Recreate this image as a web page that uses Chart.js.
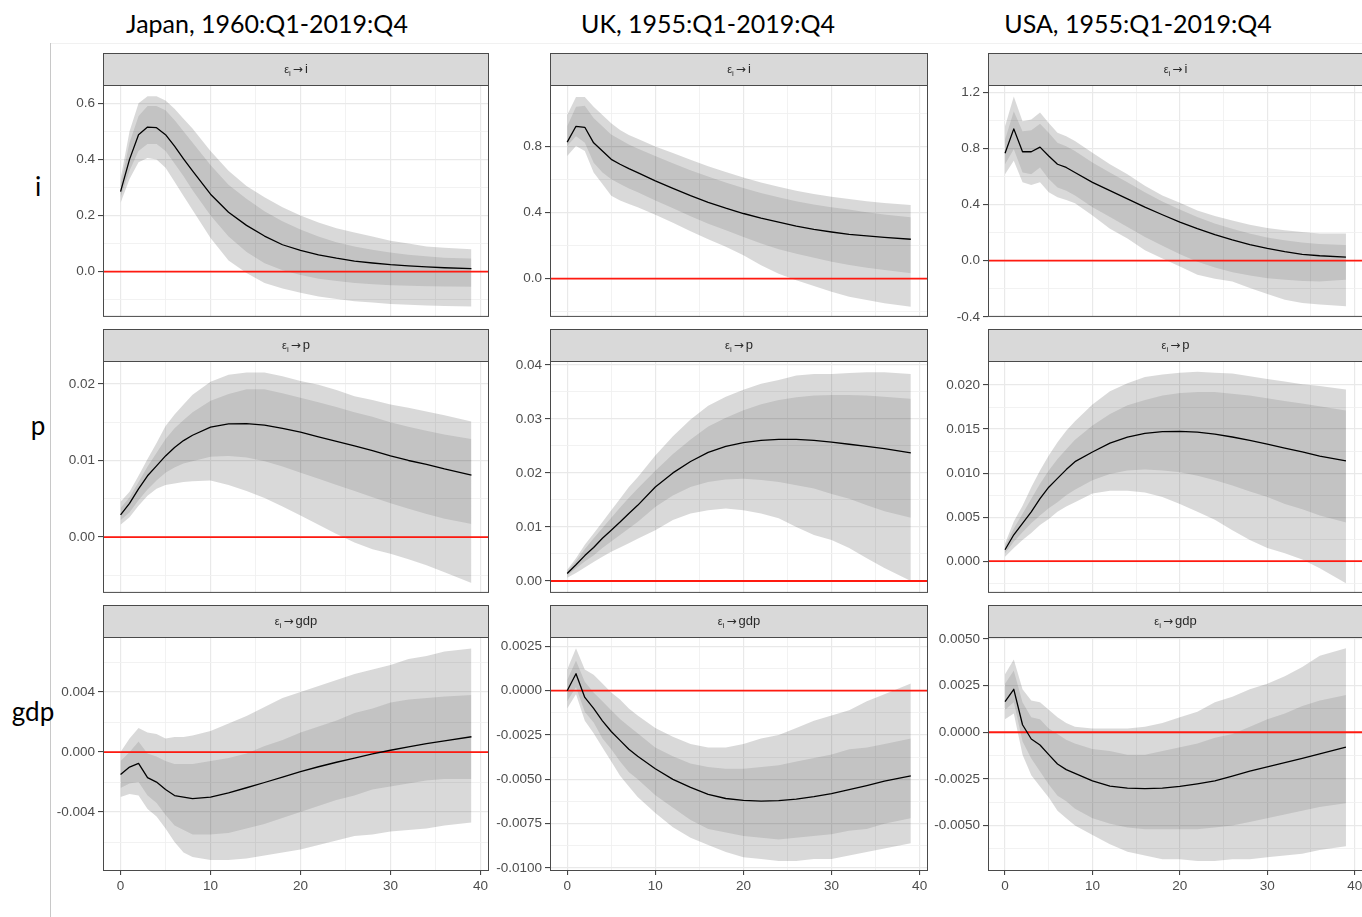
<!DOCTYPE html>
<html>
<head>
<meta charset="utf-8">
<script src="https://cdn.jsdelivr.net/npm/chart.js@4.4.1/dist/chart.umd.min.js"></script>
<style>
  html, body { margin: 0; padding: 0; background: #fff; overflow: hidden; }
  #page { position: relative; width: 1362px; height: 917px; overflow: hidden; }
  .title, .rowlab { position: absolute; font-family: Lato, sans-serif; line-height: 1.2; color: #000; white-space: nowrap; transform: translateX(-50%); }
  .title { font-size: 25px; top: 8px; }
  .rowlab { font-size: 26px; }
  canvas { position: absolute; }
</style>
</head>
<body>
<div id="page">
  <div style="position:absolute;left:50px;top:43px;width:1px;height:874px;background:#c8c8c8"></div>
  <div style="position:absolute;left:51px;top:43px;right:0;height:1px;background:#f1f1f1"></div>
  <div class="title" style="left:267px">Japan, 1960:Q1-2019:Q4</div>
  <div class="title" style="left:708px">UK, 1955:Q1-2019:Q4</div>
  <div class="title" style="left:1138px">USA, 1955:Q1-2019:Q4</div>
  <div class="rowlab" style="left:38px;top:171px">i</div>
  <div class="rowlab" style="left:38px;top:410px">p</div>
  <div class="rowlab" style="left:33px;top:696px">gdp</div>
</div>
<script>
Chart.defaults.font.family = '"Liberation Sans", Arial, sans-serif';

const horizons = [0, 1, 2, 3, 4, 5, 6, 7, 8, 10, 12, 14, 16, 18, 20, 22, 24, 26, 28, 30, 32, 34, 36, 39];

// Japan
const jpnIMid   = [.285,.40,.488,.515,.513,.488,.447,.402,.359, .276,.212,.165,.127,.096,.076,.060,.048,.038,.031,.025,.021,.017,.014, .011];
const jpnIOutHi = [.33,.50,.60,.625,.625,.61,.58,.545,.51, .43,.36,.305,.265,.23,.20,.175,.155,.14,.125,.11,.10,.09,.085, .08];
const jpnIInHi  = [.31,.46,.555,.59,.59,.575,.54,.50,.46, .38,.31,.26,.215,.18,.15,.125,.105,.09,.078,.068,.06,.055,.05, .047];
const jpnIInLo  = [.265,.36,.43,.455,.455,.43,.385,.34,.29, .20,.125,.07,.03,.005,-.012,-.025,-.033,-.04,-.045,-.048,-.05,-.052,-.053, -.054];
const jpnIOutLo = [.245,.33,.39,.405,.40,.37,.32,.27,.22, .12,.04,-.005,-.04,-.06,-.075,-.088,-.097,-.105,-.11,-.115,-.118,-.12,-.122, -.124];

const jpnPMid   = [.0029,.0044,.0063,.008,.0093,.0106,.0117,.0126,.0133, .01435,.01478,.01482,.01462,.0142,.0137,.0131,.0125,.0119,.0113,.0106,.0100,.0095,.0089, .0081];
const jpnPOutHi = [.0046,.0059,.008,.0102,.0123,.0145,.016,.0173,.0186, .0203,.0212,.0215,.0215,.021,.0204,.0199,.0192,.0184,.0179,.0173,.0169,.0164,.0159, .0151];
const jpnPInHi  = [.0038,.0052,.0072,.0092,.011,.0128,.0142,.0153,.0163, .0178,.0187,.0193,.0193,.0188,.0182,.0176,.017,.0163,.0157,.015,.0144,.0139,.0134, .0128];
const jpnPInLo  = [.0022,.0032,.0048,.0062,.0074,.0084,.0091,.0096,.0099, .0105,.0106,.0104,.0099,.0092,.0084,.0076,.0068,.006,.0052,.0044,.0037,.003,.0024, .0017];
const jpnPOutLo = [.0016,.0026,.0041,.0054,.0063,.0068,.007,.0072,.0073, .0074,.0068,.006,.0051,.004,.0028,.0016,.0004,-.0007,-.0016,-.0022,-.0029,-.0037,-.0046, -.006];

const jpnGdpMid   = [-.0015,-.001,-.00076,-.0017,-.002,-.0025,-.0029,-.003,-.0031, -.003,-.00272,-.00238,-.00203,-.00167,-.0013,-.00098,-.00068,-.0004,-.00012,.00012,.00035,.00056,.00075, .00102];
const jpnGdpOutHi = [0,.0009,.0016,.0013,.0012,.0009,.001,.001,.0011, .0014,.0019,.0024,.003,.0036,.004,.0044,.0048,.0052,.0055,.0058,.0062,.0064,.0067, .0069];
const jpnGdpInHi  = [-.0006,0,.0007,-.0001,-.0003,-.0006,-.0008,-.0008,-.0008, -.0006,-.0004,-.0001,.0004,.0008,.0013,.0017,.0021,.0026,.0029,.0033,.0035,.0036,.0037, .0038];
const jpnGdpInLo  = [-.0024,-.0021,-.002,-.0029,-.0034,-.0042,-.0049,-.0052,-.0055, -.0055,-.0054,-.0051,-.0048,-.0044,-.004,-.0036,-.0032,-.0029,-.0025,-.0023,-.0021,-.0019,-.0018, -.0018];
const jpnGdpOutLo = [-.003,-.0028,-.0029,-.0038,-.0043,-.0051,-.006,-.0067,-.007, -.0072,-.0072,-.0071,-.0069,-.0067,-.0065,-.0062,-.0059,-.0056,-.0055,-.0053,-.0052,-.0051,-.0049, -.0047];

// UK
const ukIMid   = [.826,.922,.916,.822,.772,.722,.692,.666,.642, .592,.546,.502,.462,.426,.394,.366,.342,.318,.298,.282,.268,.258,.25, .238];
const ukIOutHi = [.99,1.10,1.10,1.04,.99,.94,.90,.87,.846, .80,.76,.72,.68,.646,.612,.582,.556,.532,.512,.496,.482,.468,.458, .446];
const ukIInHi  = [.922,1.04,1.046,.972,.922,.872,.842,.812,.788, .742,.698,.656,.618,.582,.548,.518,.492,.468,.448,.432,.418,.402,.388, .372];
const ukIInLo  = [.802,.862,.822,.702,.642,.602,.572,.546,.522, .472,.426,.378,.332,.292,.252,.212,.178,.15,.126,.102,.082,.066,.052, .032];
const ukIOutLo = [.742,.802,.772,.642,.572,.502,.472,.452,.432, .386,.338,.286,.238,.192,.142,.08,.03,-.01,-.045,-.08,-.11,-.13,-.15, -.17];

const ukPMid   = [.0014,.003,.0047,.0062,.0079,.0094,.0109,.0125,.014, .0174,.02,.0221,.0238,.0249,.0256,.026,.0262,.0262,.026,.0257,.0253,.0249,.0245, .0237];
const ukPOutHi = [.0021,.0042,.0067,.0088,.0109,.0131,.0152,.0174,.0192, .0232,.0268,.0299,.0324,.0341,.0354,.0365,.0372,.038,.0383,.0383,.0385,.0386,.0386, .0383];
const ukPInHi  = [.0018,.0037,.0059,.0079,.0098,.0117,.0136,.0154,.0171, .0204,.0235,.0262,.0286,.0302,.0316,.0327,.0335,.034,.0343,.0344,.0344,.0343,.0341, .0337];
const ukPInLo  = [.001,.0023,.0036,.0047,.0061,.0073,.0085,.0097,.0109, .0137,.0158,.0174,.0183,.0188,.0189,.0187,.0183,.0177,.0171,.0161,.0152,.014,.0129, .0117];
const ukPOutLo = [.0006,.0015,.0025,.0035,.0045,.0054,.0062,.007,.0078, .0094,.0113,.0125,.0131,.0134,.0131,.0125,.0116,.01,.0085,.0076,.0061,.0042,.0024, 0];

const ukGdpMid   = [0,.00096,-.00038,-.001,-.0017,-.0023,-.0028,-.0033,-.0037, -.0044,-.005,-.00545,-.00585,-.00608,-.00619,-.00623,-.0062,-.00612,-.00598,-.0058,-.00558,-.00535,-.0051, -.0048];
const ukGdpOutHi = [.0012,.0024,.0012,.0009,.0004,-.0001,-.0005,-.001,-.0014, -.0021,-.0026,-.003,-.0032,-.0032,-.003,-.0027,-.0025,-.0021,-.0017,-.0014,-.0011,-.0006,-.0002, .0004];
const ukGdpInHi  = [.0006,.0017,.0005,-.0001,-.0006,-.0011,-.0016,-.002,-.0024, -.0032,-.0037,-.0041,-.0043,-.0044,-.0044,-.0043,-.0042,-.004,-.0038,-.0036,-.0033,-.0032,-.003, -.0027];
const ukGdpInLo  = [-.0006,.0002,-.0012,-.0018,-.0027,-.0033,-.004,-.0046,-.005, -.0059,-.0066,-.0073,-.0078,-.008,-.0082,-.0083,-.0084,-.0083,-.0082,-.0081,-.0079,-.0078,-.0075, -.0072];
const ukGdpOutLo = [-.001,-.0002,-.0017,-.0024,-.0032,-.004,-.0048,-.0054,-.006, -.0069,-.0077,-.0083,-.0087,-.0091,-.0094,-.0095,-.0096,-.0096,-.0095,-.0095,-.0093,-.0091,-.0089, -.0086];

// USA
const usaIMid   = [.765,.939,.776,.776,.809,.746,.687,.664,.628, .558,.499,.44,.381,.327,.275,.228,.186,.148,.115,.087,.064,.045,.035, .025];
const usaIOutHi = [.958,1.169,.993,1.005,1.056,.981,.911,.887,.852, .769,.687,.616,.534,.464,.412,.358,.318,.287,.256,.233,.216,.205,.193, .193];
const usaIInHi  = [.864,1.064,.922,.929,.976,.911,.84,.816,.781, .699,.628,.558,.487,.421,.365,.311,.264,.228,.193,.165,.146,.129,.118, .111];
const usaIInLo  = [.687,.793,.628,.616,.664,.581,.522,.499,.464, .381,.311,.24,.169,.106,.045,-.007,-.049,-.082,-.106,-.125,-.136,-.144,-.148, -.136];
const usaIOutLo = [.616,.711,.558,.539,.558,.487,.452,.433,.409, .322,.228,.158,.075,.016,-.042,-.101,-.129,-.148,-.195,-.238,-.278,-.301,-.313, -.325];

const usaPMid   = [.0013,.003,.0043,.0056,.0071,.0084,.0094,.0104,.0113, .0124,.0134,.01408,.01452,.01472,.01475,.01465,.01442,.0141,.01372,.0133,.01285,.0124,.01193, .0114];
const usaPOutHi = [.002,.0045,.0063,.0084,.0103,.012,.0135,.0148,.0159, .0178,.0193,.0202,.0209,.0212,.0214,.0215,.0214,.0213,.021,.0207,.0204,.0201,.0199, .0195];
const usaPInHi  = [.0017,.0037,.0054,.0071,.0088,.0103,.0116,.0127,.0138, .0154,.0167,.0177,.0183,.0188,.0191,.0192,.0192,.019,.0188,.0185,.0182,.0179,.0176, .0171];
const usaPInLo  = [.0009,.0022,.0033,.0043,.0052,.006,.0067,.0075,.0081, .0092,.0099,.0103,.0104,.0103,.0101,.0097,.0092,.0086,.0079,.0073,.0065,.0059,.0052, .0044];
const usaPOutLo = [.0005,.0015,.0024,.0032,.0041,.0048,.0056,.0062,.0067, .0077,.008,.008,.0078,.0073,.0065,.0056,.0047,.0035,.0024,.0015,.0009,.0002,-.0008, -.0025];

const usaGdpMid   = [.00164,.0023,.0004,-.00036,-.00068,-.0012,-.0017,-.002,-.0022, -.0026,-.00288,-.00299,-.00302,-.00299,-.0029,-.00276,-.0026,-.00235,-.00208,-.00186,-.00163,-.0014,-.00116, -.0008];
const usaGdpOutHi = [.0031,.0039,.0023,.0017,.0016,.0012,.0008,.0005,.0003, .0002,.0002,.0002,.0003,.0005,.0008,.0011,.0016,.0019,.0023,.0026,.003,.0035,.0041, .0045];
const usaGdpInHi  = [.0026,.0033,.0016,.0008,.0007,.0002,-.0001,-.0004,-.0006, -.0009,-.001,-.0012,-.0012,-.001,-.0008,-.0006,-.0003,-.0001,.0003,.0007,.001,.0014,.0017, .002];
const usaGdpInLo  = [.0012,.0016,-.0005,-.0014,-.0021,-.0028,-.0034,-.0037,-.0041, -.0046,-.0049,-.0051,-.0052,-.0052,-.0052,-.0052,-.0051,-.005,-.0048,-.0046,-.0044,-.0042,-.004, -.0038];
const usaGdpOutLo = [.0007,.001,-.0012,-.0023,-.0029,-.0035,-.0042,-.0046,-.005, -.0055,-.006,-.0064,-.0066,-.0068,-.0068,-.0069,-.0069,-.0068,-.0068,-.0067,-.0066,-.0065,-.0063, -.0061];

// tick labels (major) and minor grid values
const jpnITicks = ['0.0', '0.2', '0.4', '0.6'];
const jpnIMinor = [-0.1, 0.1, 0.3, 0.5];
const jpnPTicks = ['0.00', '0.01', '0.02'];
const jpnPMinor = [-0.005, 0.005, 0.015];
const jpnGdpTicks = ['-0.004', '0.000', '0.004'];
const jpnGdpMinor = [-0.006, -0.002, 0.002, 0.006];
const ukITicks = ['0.0', '0.4', '0.8'];
const ukIMinor = [-0.2, 0.2, 0.6, 1.0];
const ukPTicks = ['0.00', '0.01', '0.02', '0.03', '0.04'];
const ukPMinor = [0.005, 0.015, 0.025, 0.035];
const ukGdpTicks = ['-0.0100', '-0.0075', '-0.0050', '-0.0025', '0.0000', '0.0025'];
const ukGdpMinor = [-0.00875, -0.00625, -0.00375, -0.00125, 0.00125];
const usaITicks = ['-0.4', '0.0', '0.4', '0.8', '1.2'];
const usaIMinor = [-0.2, 0.2, 0.6, 1.0];
const usaPTicks = ['0.000', '0.005', '0.010', '0.015', '0.020'];
const usaPMinor = [-0.0025, 0.0025, 0.0075, 0.0125, 0.0175];
const usaGdpTicks = ['-0.0050', '-0.0025', '0.0000', '0.0025', '0.0050'];
const usaGdpMinor = [-0.00625, -0.00375, -0.00125, 0.00125, 0.00375];

const xTicks = ['0', '10', '20', '30', '40'];
const xMinor = [5, 15, 25, 35];

// layout of the facet grid
const colLeft = [103, 550, 988];
const colWidth = [386, 378, 375];
const axisWidth = [53, 58, 58];
const rowTop = [85, 361, 637];
const plotHeight = 234;
const stripHeight = 32;

const panels = [
  {col: 0, row: 0, target: 'i', mid: jpnIMid, inLo: jpnIInLo, inHi: jpnIInHi, outLo: jpnIOutLo, outHi: jpnIOutHi, ticks: jpnITicks, minor: jpnIMinor, min: -0.161, max: 0.665},
  {col: 0, row: 1, target: 'p', mid: jpnPMid, inLo: jpnPInLo, inHi: jpnPInHi, outLo: jpnPOutLo, outHi: jpnPOutHi, ticks: jpnPTicks, minor: jpnPMinor, min: -0.0073, max: 0.0230},
  {col: 0, row: 2, target: 'gdp', mid: jpnGdpMid, inLo: jpnGdpInLo, inHi: jpnGdpInHi, outLo: jpnGdpOutLo, outHi: jpnGdpOutHi, ticks: jpnGdpTicks, minor: jpnGdpMinor, min: -0.00793, max: 0.00767},
  {col: 1, row: 0, target: 'i', mid: ukIMid, inLo: ukIInLo, inHi: ukIInHi, outLo: ukIOutLo, outHi: ukIOutHi, ticks: ukITicks, minor: ukIMinor, min: -0.232, max: 1.172},
  {col: 1, row: 1, target: 'p', mid: ukPMid, inLo: ukPInLo, inHi: ukPInHi, outLo: ukPOutLo, outHi: ukPOutHi, ticks: ukPTicks, minor: ukPMinor, min: -0.0022, max: 0.0407},
  {col: 1, row: 2, target: 'gdp', mid: ukGdpMid, inLo: ukGdpInLo, inHi: ukGdpInHi, outLo: ukGdpOutLo, outHi: ukGdpOutHi, ticks: ukGdpTicks, minor: ukGdpMinor, min: -0.01017, max: 0.00303},
  {col: 2, row: 0, target: 'i', mid: usaIMid, inLo: usaIInLo, inHi: usaIInHi, outLo: usaIOutLo, outHi: usaIOutHi, ticks: usaITicks, minor: usaIMinor, min: -0.4005, max: 1.2515},
  {col: 2, row: 1, target: 'p', mid: usaPMid, inLo: usaPInLo, inHi: usaPInHi, outLo: usaPOutLo, outHi: usaPOutHi, ticks: usaPTicks, minor: usaPMinor, min: -0.0036, max: 0.02273},
  {col: 2, row: 2, target: 'gdp', mid: usaGdpMid, inLo: usaGdpInLo, inHi: usaGdpInHi, outLo: usaGdpOutLo, outHi: usaGdpOutHi, ticks: usaGdpTicks, minor: usaGdpMinor, min: -0.00743, max: 0.0051}
];

const same = (a, b) => Math.abs(a - b) < 1e-9;
const pts = vals => horizons.map((h, i) => ({x: h, y: vals[i]}));

const facet = {
  id: 'facet',
  beforeDatasetDraw(chart, args) {
    if (args.index !== 4) return;
    const {ctx, chartArea: a, scales} = chart;
    const y0 = scales.y.getPixelForValue(0);
    ctx.save();
    ctx.strokeStyle = '#ff1a10';
    ctx.lineWidth = 1.8;
    ctx.beginPath();
    ctx.moveTo(a.left, y0);
    ctx.lineTo(a.right, y0);
    ctx.stroke();
    ctx.restore();
  },
  afterDraw(chart, args, opts) {
    const {ctx, chartArea: a} = chart;
    const w = a.right - a.left;
    ctx.save();
    ctx.fillStyle = '#d9d9d9';
    ctx.fillRect(a.left, a.top - stripHeight, w, stripHeight);
    ctx.strokeStyle = '#4a4a4a';
    ctx.lineWidth = 1;
    ctx.strokeRect(a.left + 0.5, a.top - stripHeight + 0.5, w - 1, stripHeight);
    ctx.strokeRect(a.left + 0.5, a.top + 0.5, w - 1, a.bottom - a.top - 1);

    // strip label: epsilon with subscript i, arrow, target variable
    const eps = '11px "Liberation Sans", sans-serif';
    const sub = '8px "Liberation Sans", sans-serif';
    const arrow = '12px "DejaVu Sans", sans-serif';
    const big = '13px "Liberation Sans", sans-serif';
    ctx.font = eps;  const w1 = ctx.measureText('\u03b5').width;
    ctx.font = sub;  const w2 = ctx.measureText('i').width;
    ctx.font = arrow; const w3 = ctx.measureText('\u2192').width;
    ctx.font = big;  const w4 = ctx.measureText(opts.target).width;
    const gap = 2;
    let x = a.left + w / 2 - (w1 + w2 + w3 + w4 + 2 * gap) / 2;
    const base = a.top - stripHeight / 2 + 4;
    ctx.fillStyle = '#2a2a2a';
    ctx.textAlign = 'left';
    ctx.textBaseline = 'alphabetic';
    ctx.font = eps;  ctx.fillText('\u03b5', x, base); x += w1;
    ctx.font = sub;  ctx.fillText('i', x, base + 3); x += w2 + gap;
    ctx.font = arrow; ctx.fillText('\u2192', x, base); x += w3 + gap;
    ctx.font = big;  ctx.fillText(opts.target, x, base);
    ctx.restore();
  }
};

const page = document.getElementById('page');

panels.forEach(p => {
  const bottomRow = p.row === 2;
  const padBottom = bottomRow ? 2 : 9;
  const xAxisHeight = bottomRow ? 28 : 0;
  const canvas = document.createElement('canvas');
  const cw = axisWidth[p.col] + colWidth[p.col] + 2;
  const ch = stripHeight + 1 + plotHeight + padBottom + xAxisHeight;
  canvas.width = cw;
  canvas.height = ch;
  canvas.style.width = cw + 'px';
  canvas.style.height = ch + 'px';
  canvas.style.left = (colLeft[p.col] - axisWidth[p.col]) + 'px';
  canvas.style.top = (rowTop[p.row] - stripHeight - 1) + 'px';
  page.appendChild(canvas);

  const yMajor = p.ticks.map(t => parseFloat(t));
  const yIsMajor = v => yMajor.some(m => same(m, v));
  const xMajor = xTicks.map(t => parseFloat(t));
  const xIsMajor = v => xMajor.some(m => same(m, v));

  const band = (vals, fill, color, order) => ({
    data: pts(vals), borderWidth: 0, borderColor: 'rgba(0,0,0,0)', pointRadius: 0,
    fill: fill, backgroundColor: color, order: order, tension: 0
  });

  new Chart(canvas, {
    type: 'line',
    data: {
      datasets: [
        band(p.outLo, false, 'rgba(0,0,0,0)', 5),
        band(p.outHi, '-1', 'rgba(0,0,0,0.15)', 4),
        band(p.inLo, false, 'rgba(0,0,0,0)', 3),
        band(p.inHi, '-1', 'rgba(0,0,0,0.1)', 2),
        {data: pts(p.mid), borderColor: '#000', borderWidth: 1.3, pointRadius: 0, fill: false, order: 1, tension: 0, borderJoinStyle: 'round'}
      ]
    },
    options: {
      responsive: false,
      animation: false,
      events: [],
      layout: {padding: {top: stripHeight + 1, right: 2, bottom: padBottom, left: 0}},
      plugins: {
        legend: {display: false},
        tooltip: {enabled: false},
        facet: {target: p.target}
      },
      scales: {
        x: {
          type: 'linear',
          min: -1.95,
          max: 40.95,
          afterBuildTicks: s => { s.ticks = xMajor.concat(xMinor).map(v => ({value: v})); },
          afterFit: s => { s.height = xAxisHeight; },
          border: {display: false},
          grid: {
            color: c => xIsMajor(c.tick.value) ? '#e9e9e9' : '#f1f1f1',
            lineWidth: c => xIsMajor(c.tick.value) ? 1.2 : 0.9,
            drawTicks: bottomRow,
            tickLength: 4,
            tickWidth: 1,
            tickColor: c => xIsMajor(c.tick.value) ? '#333' : 'rgba(0,0,0,0)'
          },
          ticks: {
            display: bottomRow,
            autoSkip: false,
            maxRotation: 0,
            padding: 3,
            color: '#4d4d4d',
            font: {size: 13.5},
            callback: v => {
              const i = xMajor.findIndex(m => same(m, v));
              return i < 0 ? '' : xTicks[i];
            }
          }
        },
        y: {
          type: 'linear',
          min: p.min,
          max: p.max,
          afterBuildTicks: s => { s.ticks = yMajor.concat(p.minor).map(v => ({value: v})); },
          afterFit: s => { s.width = axisWidth[p.col]; },
          border: {display: false},
          grid: {
            color: c => yIsMajor(c.tick.value) ? '#e9e9e9' : '#f1f1f1',
            lineWidth: c => yIsMajor(c.tick.value) ? 1.2 : 0.9,
            drawTicks: true,
            tickLength: 5,
            tickWidth: 1,
            tickColor: c => yIsMajor(c.tick.value) ? '#333' : 'rgba(0,0,0,0)'
          },
          ticks: {
            autoSkip: false,
            padding: 3,
            color: '#4d4d4d',
            font: {size: 13.5},
            callback: v => {
              const i = yMajor.findIndex(m => same(m, v));
              return i < 0 ? '' : p.ticks[i];
            }
          }
        }
      }
    },
    plugins: [facet]
  });
});
</script>
</body>
</html>
